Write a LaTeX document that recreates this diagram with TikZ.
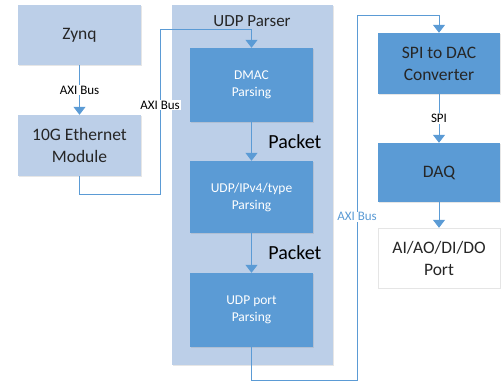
\documentclass[tikz,border=0pt]{standalone}
\usepackage{fontspec}
\setmainfont{Carlito}
\usetikzlibrary{arrows.meta,shadows}
\definecolor{boxlight}{HTML}{BCCFE8}
\definecolor{boxdark}{HTML}{5B9BD5}
\definecolor{wire}{HTML}{5B9BD5}
\begin{document}
\begin{tikzpicture}[x=1pt,y=-1pt,>={Triangle[width=12pt,length=8pt]},
  blk/.style={fill=boxlight,minimum width=123pt,align=center,inner sep=0pt,text=black!85,
    font=\fontsize{17.5}{22}\selectfont,drop shadow={shadow xshift=1pt,shadow yshift=-1pt,opacity=.2}},
  dark/.style={blk,fill=boxdark,text=white,font=\fontsize{13.5}{17}\selectfont},
  wire/.style={draw=wire,line width=1pt},
  lbl/.style={fill=white,inner sep=1pt,text=black,font=\fontsize{13}{14}\selectfont},
  pkt/.style={anchor=west,xshift=13pt,text=black,font=\fontsize{20}{24}\selectfont}]
\useasboundingbox (0,0) rectangle (502,388);

\node[blk,minimum height=60pt] (zynq) at (79.5,35) {Zynq};
\node[blk,minimum height=61pt] (eth) at (79.5,145.5) {10G Ethernet\\Module};

\node[blk,minimum width=161pt,minimum height=360pt] (parser) at (252.5,185) {};
\node[font=\fontsize{17}{20}\selectfont,text=black!85] (ptitle) at (252,21) {UDP Parser};
\node[dark,minimum height=74pt] (dmac) at (251.5,85) {DMAC\\Parsing};
\node[dark,minimum height=72pt] (ipv4) at (251.5,197) {UDP/IPv4/type\\Parsing};
\node[dark,minimum height=74pt] (port) at (251.5,310) {UDP port\\Parsing};

\node[blk,fill=boxdark,minimum width=122pt,minimum height=61pt] (spi) at (439,63.5) {SPI to DAC\\Converter};
\node[blk,fill=boxdark,minimum width=122pt,minimum height=59pt] (daq) at (439,172.5) {DAQ};
\node[blk,fill=white,draw=black!10,minimum width=122pt,minimum height=60pt] (io) at (439,258) {AI/AO/DI/DO\\Port};

\coordinate (b1) at (160,194);
\coordinate (b2) at (160,29);
\coordinate (b3) at (357,380);
\coordinate (b4) at (357,15);

\draw[wire,->] (zynq) -- node[lbl]{AXI Bus} (eth);
\draw[wire,->] (eth.south) |- (b1) -- node[lbl,pos=.54]{AXI Bus} (b2) -| (dmac.north);
\draw[wire,->] (dmac) -- node[pkt]{Packet} (ipv4);
\draw[wire,->] (ipv4) -- node[pkt]{Packet} (port);
\draw[wire,->] (port.south) |- (b3) -- node[lbl,text=wire,pos=.447]{AXI Bus} (b4) -| (spi.north);
\draw[wire,->] (spi) -- node[lbl]{SPI} (daq);
\draw[wire,->] (daq) -- (io);
\end{tikzpicture}
\end{document}
